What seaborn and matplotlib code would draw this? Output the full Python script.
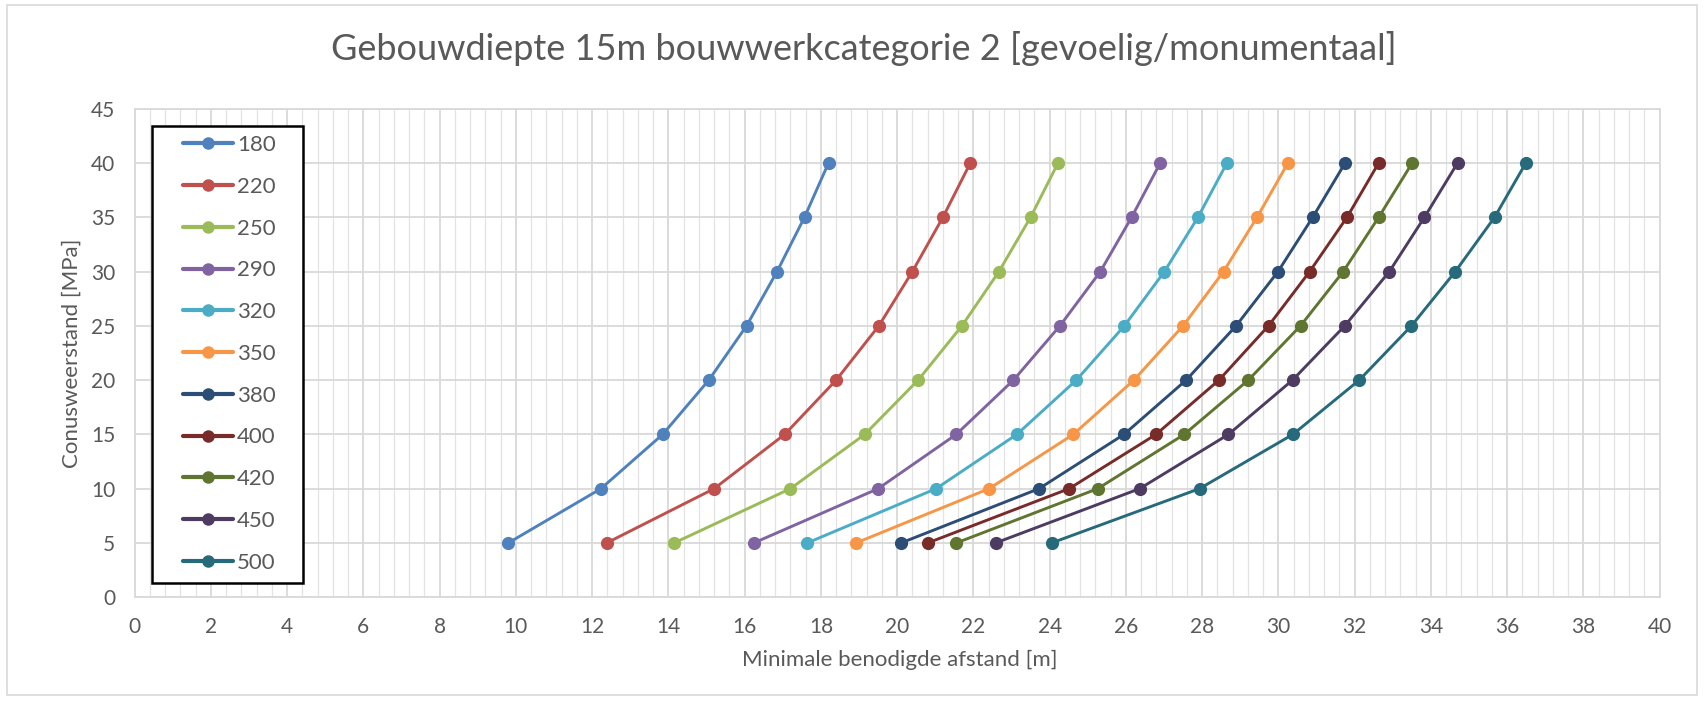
import matplotlib
matplotlib.use("Agg")
import matplotlib.pyplot as plt
import seaborn as sns
import pandas as pd
from matplotlib.ticker import MultipleLocator
from matplotlib.patches import Rectangle

# ---- data ----
cone_resistance = [5, 10, 15, 20, 25, 30, 35, 40]  # MPa
series_labels = ["180", "220", "250", "290", "320", "350", "380", "400", "420", "450", "500"]
d_180 = [9.80, 12.23, 13.85, 15.06, 16.05, 16.85, 17.57, 18.20]
d_220 = [12.38, 15.20, 17.05, 18.40, 19.52, 20.40, 21.20, 21.92]
d_250 = [14.15, 17.20, 19.15, 20.55, 21.70, 22.67, 23.50, 24.22]
d_290 = [16.24, 19.50, 21.55, 23.05, 24.27, 25.33, 26.15, 26.90]
d_320 = [17.64, 21.02, 23.14, 24.70, 25.96, 27.01, 27.89, 28.65]
d_350 = [18.92, 22.41, 24.62, 26.21, 27.50, 28.56, 29.44, 30.25]
d_380 = [20.10, 23.72, 25.95, 27.58, 28.89, 29.99, 30.90, 31.75]
d_400 = [20.80, 24.51, 26.79, 28.44, 29.74, 30.82, 31.80, 32.63]
d_420 = [21.55, 25.26, 27.53, 29.21, 30.58, 31.70, 32.63, 33.51]
d_450 = [22.58, 26.36, 28.69, 30.37, 31.74, 32.91, 33.83, 34.70]
d_500 = [24.05, 27.93, 30.38, 32.12, 33.49, 34.64, 35.67, 36.49]
series_values = [d_180, d_220, d_250, d_290, d_320, d_350, d_380, d_400, d_420, d_450, d_500]
colors = ["#4F81BD", "#C0504D", "#9BBB59", "#8064A2", "#4BACC6", "#F79646",
          "#2C4D75", "#772C2A", "#5F7530", "#4D3B62", "#276A7C"]

title = "Gebouwdiepte 15m bouwwerkcategorie 2 [gevoelig/monumentaal]"
xlabel = "Minimale benodigde afstand [m]"
ylabel = "Conusweerstand [MPa]"

rows = []
for lab, vals in zip(series_labels, series_values):
    for x, y in zip(vals, cone_resistance):
        rows.append({"afstand": x, "qc": y, "serie": lab})
df = pd.DataFrame(rows)

# ---- style ----
sns.set_theme(style="white")
plt.rcParams["font.family"] = ["Lato", "DejaVu Sans"]
txt = "#595959"

fig = plt.figure(figsize=(17.04, 7.01), dpi=100)
ax = fig.add_axes([0.079, 0.148, 0.895, 0.697])

sns.lineplot(data=df, x="afstand", y="qc", hue="serie", hue_order=series_labels,
             palette=colors, sort=False, estimator=None, marker="o",
             markersize=9.5, markeredgewidth=0, linewidth=2.1, ax=ax, zorder=3)

ax.set_xlim(0, 40)
ax.set_ylim(0, 45)
ax.xaxis.set_major_locator(MultipleLocator(2))
ax.xaxis.set_minor_locator(MultipleLocator(0.4))
ax.yaxis.set_major_locator(MultipleLocator(5))
ax.grid(which="major", axis="both", color="#D9D9D9", linewidth=1.3, zorder=0)
ax.grid(which="minor", axis="x", color="#E3E3E3", linewidth=0.9, zorder=0)
ax.set_axisbelow(True)
for s in ax.spines.values():
    s.set_color("#D9D9D9")
    s.set_linewidth(1.3)

ax.tick_params(axis="both", which="both", length=0, labelsize=15, labelcolor=txt)
ax.tick_params(axis="y", pad=14)
ax.tick_params(axis="x", pad=14)

ax.set_xlabel(xlabel, fontsize=16, color=txt)
ax.set_ylabel(ylabel, fontsize=16, color=txt)
ax.xaxis.set_label_coords(0.502, -0.108)
ax.yaxis.set_label_coords(-0.0345, 0.5)

fig.text(0.507, 0.914, title, ha="center", va="baseline", fontsize=26, color=txt)

# legend: frameless entries + separate box
leg = ax.legend(loc="upper left", bbox_to_anchor=(0.0315, 0.946), frameon=False,
                fontsize=16, labelspacing=0.98, handlelength=2.25,
                handletextpad=0.2, borderpad=0.0, borderaxespad=0.0)
leg.set_zorder(6)
for t in leg.get_texts():
    t.set_color(txt)
for h in leg.legend_handles:
    h.set_linewidth(3.0)
    h.set_markersize(9.0)
ax.add_patch(Rectangle((0.0112, 0.0287), 0.0990, 0.9363, transform=ax.transAxes,
                       facecolor="white", edgecolor="black", linewidth=1.8, zorder=5))

# chart-area border
fig.patches.append(Rectangle((0.004, 0.008), 0.992, 0.985, transform=fig.transFigure,
                             fill=False, edgecolor="#D9D9D9", linewidth=1.2))

fig.savefig("out.png", dpi=100)
